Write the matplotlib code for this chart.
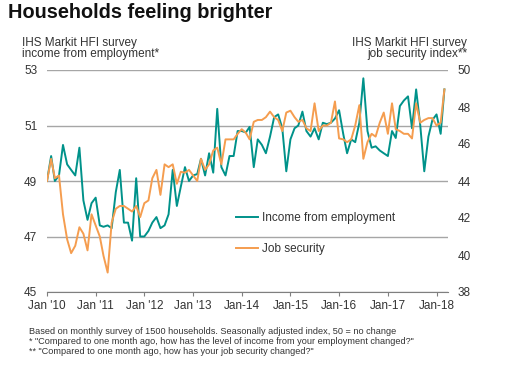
import numpy as np
import pandas as pd
import matplotlib
matplotlib.use("Agg")
import matplotlib.pyplot as plt

plt.rcParams['font.family'] = ['Liberation Sans', 'DejaVu Sans']

# monthly data, Jan 2010 - Mar 2018
months = pd.date_range("2010-01-01", periods=99, freq="MS")

# income from employment index (left axis)
income = [49.0, 49.9, 49.0, 49.2, 50.3, 49.6, 49.4, 49.2, 50.2, 48.3,
          47.6, 48.2, 48.4, 47.4, 47.35, 47.4, 47.3, 48.6, 49.4, 47.5,
          47.5, 46.85, 49.1, 47.0, 47.0, 47.2, 47.5, 47.7, 47.3, 47.4,
          47.8, 49.4, 48.1, 48.8, 49.5, 49.0, 49.2, 49.25, 49.8, 49.2,
          50.0, 49.3, 51.6, 49.5, 49.2, 49.9, 49.9, 50.8, 50.8, 50.75,
          50.95, 49.5, 50.5, 50.3, 50.0, 50.6, 51.3, 51.4, 50.9, 49.35,
          50.5, 50.9, 51.0, 51.5, 50.8, 50.6, 50.9, 50.5, 51.1, 51.05,
          51.1, 51.25, 51.55, 50.7, 50.0, 50.5, 50.4, 51.1, 52.7, 50.8,
          50.2, 50.25, 50.1, 50.0, 49.9, 50.8, 50.55, 51.7, 51.9, 52.05,
          50.9, 52.3, 51.0, 49.35, 50.6, 51.2, 51.4, 50.7, 52.3]

# job security index (right axis)
job = [44.0, 45.2, 44.15, 44.3, 42.2, 40.85, 40.1, 40.5, 41.5, 41.15,
       40.25, 42.2, 41.6, 41.0, 39.95, 39.05, 41.75, 42.5, 42.65, 42.65,
       42.5, 42.35, 42.65, 42.05, 42.8, 42.95, 44.15, 44.6, 43.25, 44.9,
       44.75, 44.9, 43.85, 44.5, 44.45, 44.6, 44.3, 44.0, 45.2, 44.6,
       44.9, 45.65, 45.8, 44.9, 46.25, 46.25, 46.25, 46.55, 46.8, 46.6,
       46.25, 47.2, 47.3, 47.3, 47.45, 47.75, 47.45, 47.3, 46.7, 47.7,
       47.8, 47.45, 47.2, 47.3, 46.85, 46.7, 48.2, 46.7, 47.0, 47.0,
       47.15, 48.3, 46.3, 46.25, 46.1, 46.25, 47.0, 48.1, 45.2, 46.1,
       46.55, 46.4, 47.15, 47.7, 46.55, 48.2, 46.8, 46.7, 46.55, 46.55,
       46.3, 48.2, 47.15, 47.3, 47.4, 47.4, 47.0, 47.15, 48.95]

xlabels = ["Jan '10", "Jan '11", "Jan '12", "Jan '13", "Jan-14",
           "Jan-15", "Jan-16", "Jan-17", "Jan-18"]

teal = '#00928a'
orange = '#f59d4f'
txt = '#333333'

fig = plt.figure(figsize=(5.05, 3.67), dpi=100)
ax = fig.add_axes([47/505, 1-292/367, 401/505, 222/367])
ax2 = ax.twinx()

l1, = ax.plot(months, income, color=teal, lw=1.4, label="Income from employment")
l2, = ax2.plot(months, job, color=orange, lw=1.4, label="Job security")

ax.set_ylim(45, 53)
ax.set_yticks([45, 47, 49, 51, 53])
ax2.set_ylim(38, 50)
ax2.set_yticks([38, 40, 42, 44, 46, 48, 50])

ax.set_xlim(pd.Timestamp("2010-01-01"), pd.Timestamp("2018-03-28"))
ticks = pd.date_range("2010-01-01", "2018-01-01", freq="YS")
ax.set_xticks(ticks)
ax.set_xticklabels(xlabels)

for a in (ax, ax2):
    for s in ('top', 'left', 'right'):
        a.spines[s].set_visible(False)
    a.spines['bottom'].set_color('#7f7f7f')
ax2.spines['bottom'].set_visible(False)

ax.grid(axis='y', color='#a6a6a6', lw=1)
ax.set_axisbelow(True)
ax.tick_params(axis='y', length=0, pad=7, labelsize=8.5, colors=txt)
ax2.tick_params(axis='y', length=0, pad=7, labelsize=8.5, colors=txt)
ax.tick_params(axis='x', length=3, color='#7f7f7f', pad=3, labelsize=8.5, colors=txt)

ax2.legend(handles=[l1, l2], loc='upper left', bbox_to_anchor=(236/505, 1-212/367),
           bbox_transform=fig.transFigure, frameon=False, fontsize=8.5,
           handlelength=1.9, handletextpad=0.3, labelspacing=1.6,
           borderpad=0, borderaxespad=0, labelcolor=txt)

fig.text(8/505, 1-13/367, "Households feeling brighter", fontsize=14.3,
         weight='bold', va='center', color='#111111')
fig.text(22/505, 1-43/367, "IHS Markit HFI survey", fontsize=8.5, va='center', color=txt)
fig.text(22/505, 1-54/367, "income from employment*", fontsize=8.5, va='center', color=txt)
fig.text(467/505, 1-43/367, "IHS Markit HFI survey", fontsize=8.5, va='center',
         ha='right', color=txt)
fig.text(467/505, 1-54/367, "job security index**", fontsize=8.5, va='center',
         ha='right', color=txt)

notes = ["Based on monthly survey of 1500 households. Seasonally adjusted index, 50 = no change",
         '* "Compared to one month ago, how has the level of income from your employment changed?"',
         '** "Compared to one month ago, how has your job security changed?"']
for i, n in enumerate(notes):
    fig.text(29/505, 1-(332+9.7*i)/367, n, fontsize=6.6, va='center', color=txt)

fig.savefig("out.png", dpi=100)
